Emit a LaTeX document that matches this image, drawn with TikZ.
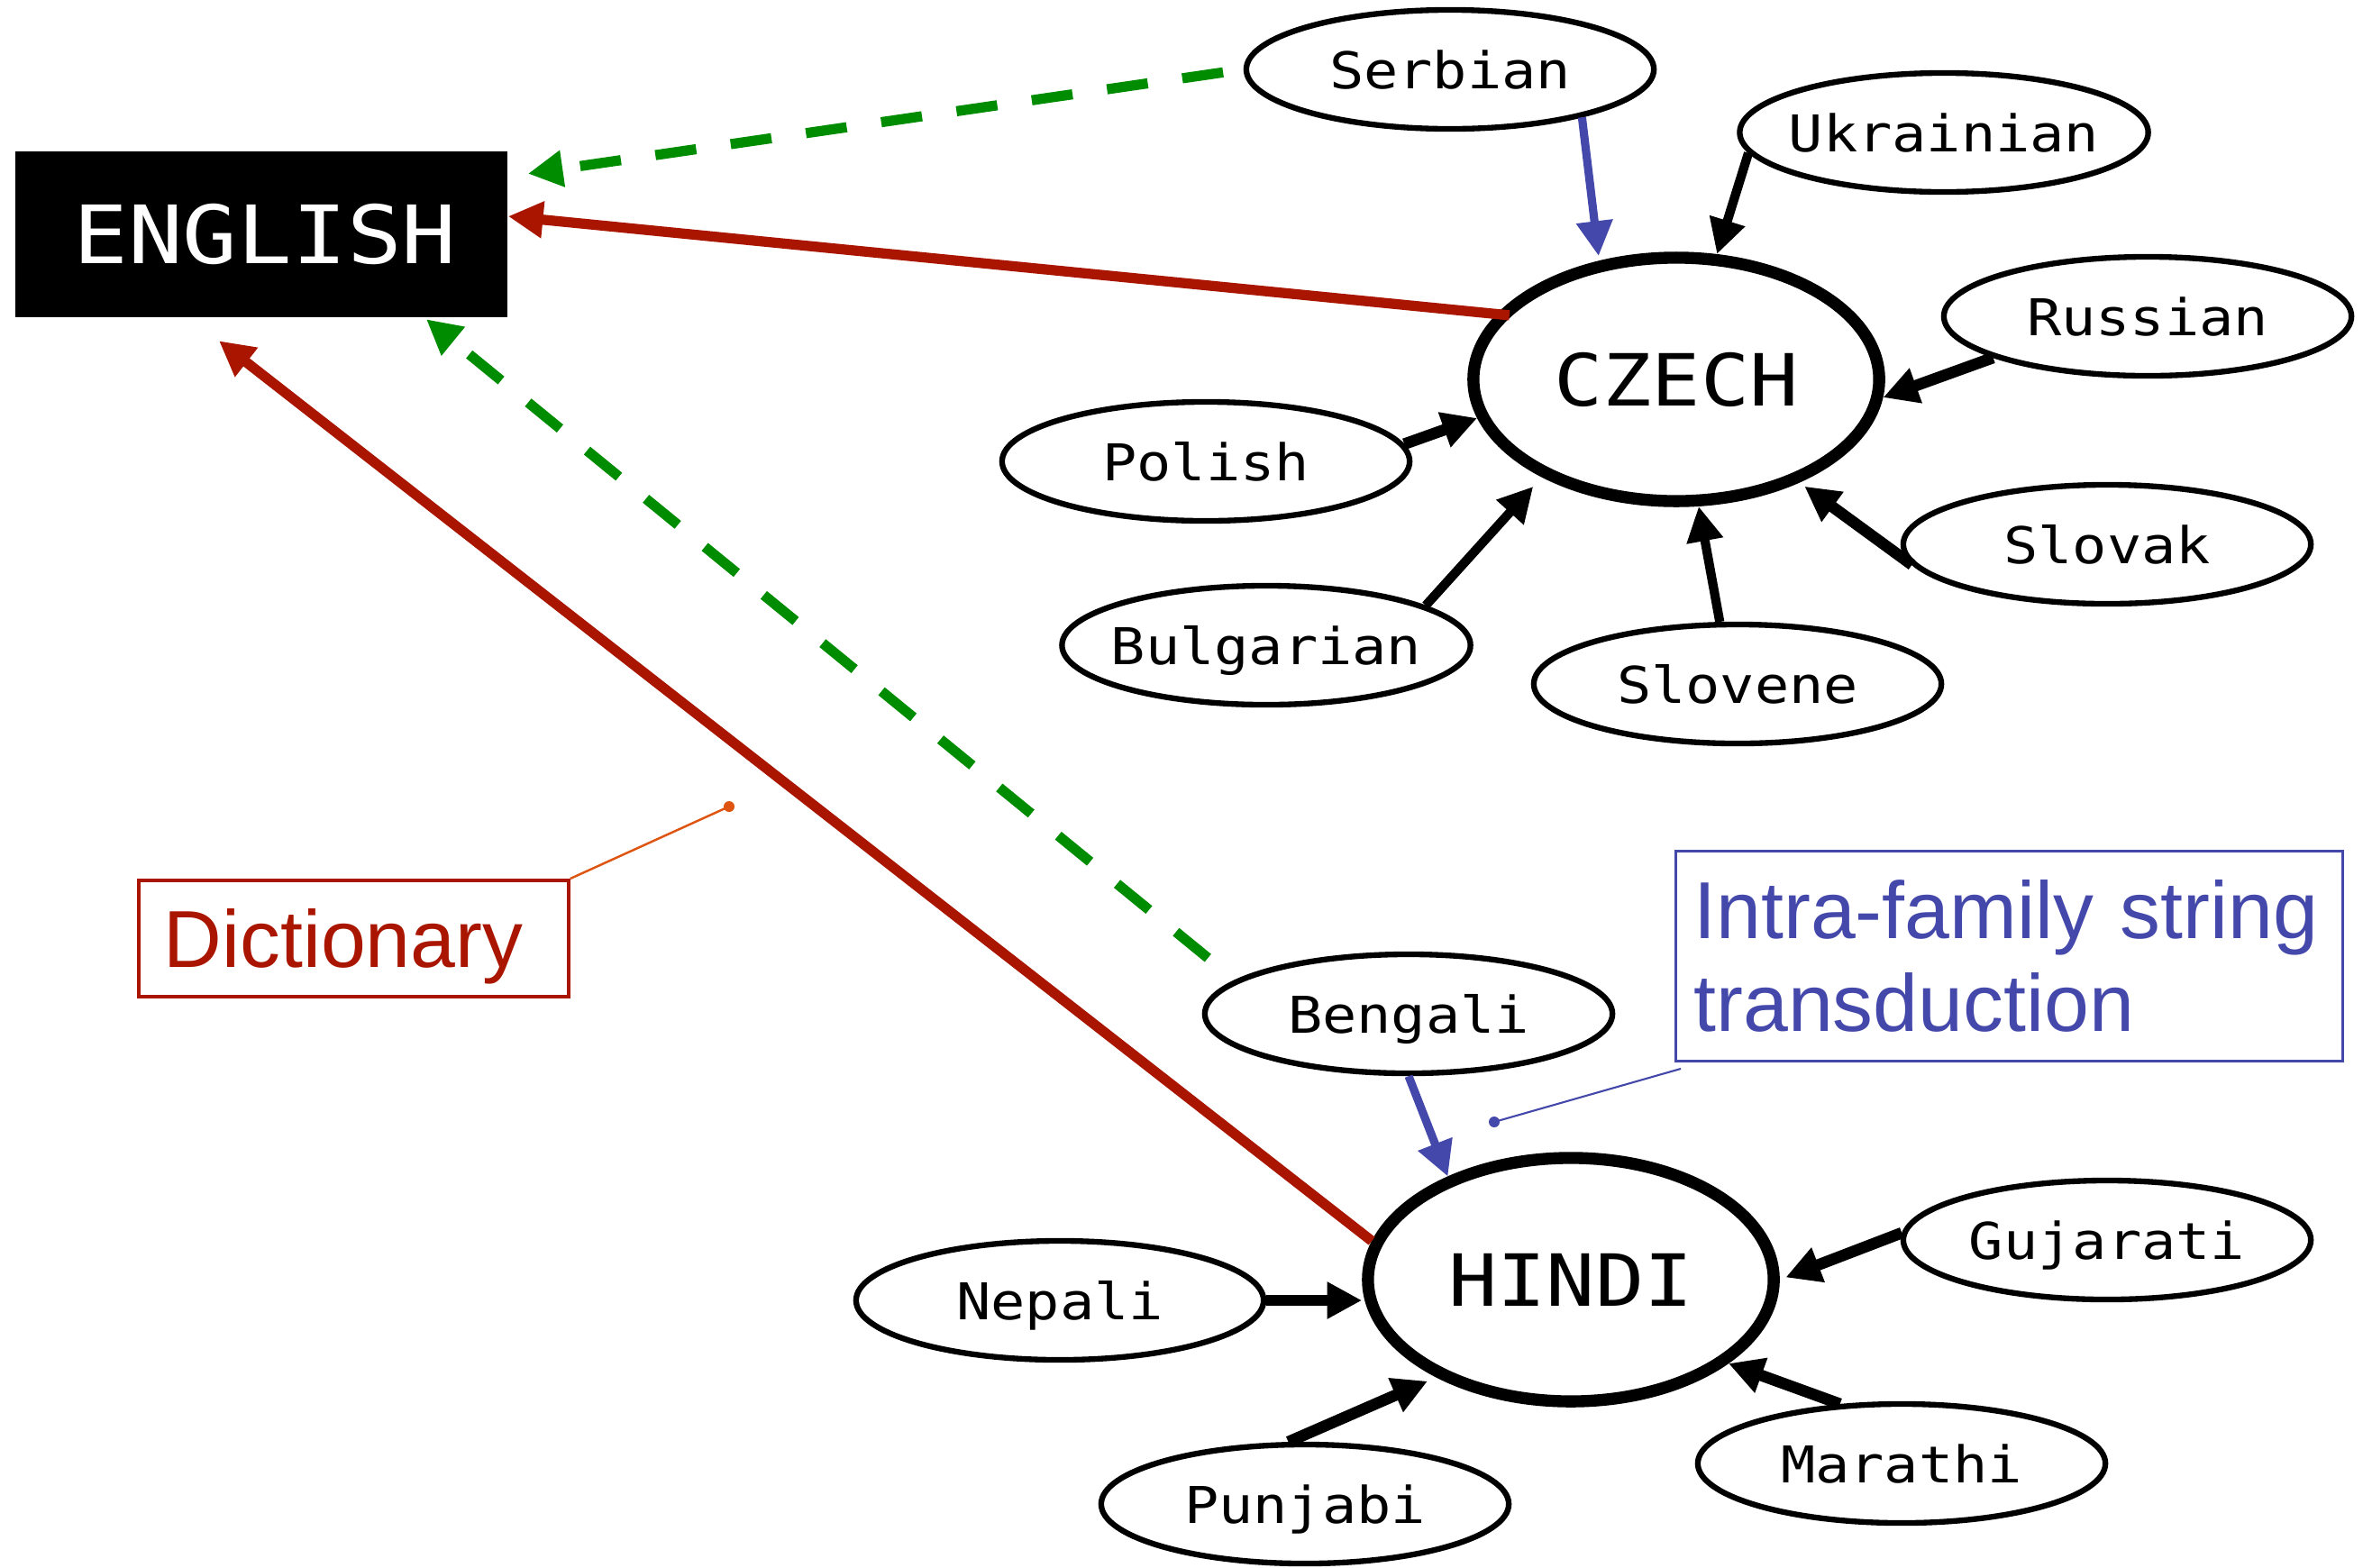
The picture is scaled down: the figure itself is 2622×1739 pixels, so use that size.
\documentclass[tikz,border=0pt]{standalone}
\usepackage{fontspec}
\setmainfont{Liberation Sans}
\newfontfamily\langfont{DejaVu Sans Mono}
\usetikzlibrary{shapes.geometric,arrows.meta,calc}

\definecolor{dictred}{HTML}{AA1500}
\definecolor{pivotgreen}{HTML}{008C00}
\definecolor{famblue}{HTML}{4448AA}
\definecolor{leaderorange}{HTML}{DD5511}

% monospaced labels are set slightly widened
\newcommand{\widetext}[1]{\scalebox{1.13}[1]{#1}}

\tikzset{
  lang/.style={ellipse, draw, line width=1.8pt, inner xsep=-0.12cm,
    inner ysep=0pt, minimum width=4.52cm, minimum height=1.32cm,
    text depth=0pt, font=\langfont\fontsize{16}{18}\selectfont},
  pivot/.style={ellipse, draw, line width=3.8pt, inner sep=0pt,
    minimum width=4.5cm, minimum height=2.7cm, text depth=0pt,
    font=\langfont\fontsize{22.7}{26}\selectfont},
  headtip/.style={-{Triangle[length=11pt,width=11pt]}},
  feed/.style={headtip, line width=2.9pt},
  feedthick/.style={headtip, line width=3.6pt},
  dictlink/.style={headtip, draw=dictred, line width=3.2pt},
  pivotlink/.style={headtip, draw=pivotgreen, line width=3.2pt,
    dash pattern=on 13pt off 11pt},
  famlink/.style={headtip, draw=famblue, line width=2.6pt},
  callout/.style={rectangle, draw, align=left, anchor=north west,
    font=\fontsize{25.5}{29.3}\selectfont},
  dot/.style={circle, inner sep=0pt, minimum size=0.12cm},
}

\begin{document}
\begin{tikzpicture}[x=0.01cm, y=-0.01cm]
\useasboundingbox (0,0) rectangle (2622,1739);

% target language
\node[rectangle, fill=black, text=white, minimum width=5.46cm,
  minimum height=1.83cm, inner sep=0pt,
  font=\langfont\fontsize{25.4}{28}\selectfont] (english) at (290,260)
  {\hspace*{0.08cm}\widetext{ENGLISH}};

% Slavic family
\node[pivot] (czech) at (1860,421) {\widetext{CZECH}};
\node[lang] (serbian)   at (1609,77)   {\widetext{Serbian}};
\node[lang] (ukrainian) at (2157,147)  {\widetext{Ukrainian}};
\node[lang] (russian)   at (2383,351)  {\widetext{Russian}};
\node[lang] (polish)    at (1338,512)  {\widetext{Polish}};
\node[lang] (slovak)    at (2338,604)  {\widetext{Slovak}};
\node[lang] (bulgarian) at (1405,716)  {\widetext{Bulgarian}};
\node[lang] (slovene)   at (1928,759)  {\widetext{Slovene}};

% Indic family
\node[pivot] (hindi) at (1743,1420) {\widetext{HINDI}};
\node[lang] (bengali)  at (1563,1125) {\widetext{Bengali}};
\node[lang] (gujarati) at (2338,1376) {\widetext{Gujarati}};
\node[lang] (nepali)   at (1176,1443) {\widetext{Nepali}};
\node[lang] (marathi)  at (2110,1624) {\widetext{Marathi}};
\node[lang] (punjabi)  at (1448,1669) {\widetext{Punjabi}};

% dictionary links to English
\draw[dictlink, shorten <=-4pt] (czech.160) -- ($(english.east)+(0,-20)$);
\draw[dictlink] (hindi.169) -- ($(english.south)+(-47,26)$);

% pivot links to English
\draw[pivotlink, shorten <=6.5pt] (serbian.west) -- ($(english.north east)+(22,25)$);
\draw[pivotlink, shorten <=11pt] (bengali.169) -- ($(english.south)+(183,2)$);

% intra-family transduction
\draw[famlink, shorten >=1.5pt] (serbian.-20) -- (czech.123);
\draw[famlink] (bengali.south) -- (hindi.140);

% Slavic languages into Czech
\draw[feed] (ukrainian.186) -- (czech.72);
\draw[feedthick] (russian.195) -- (czech.-5);
\draw[feedthick] (polish.5) -- (czech.191);
\draw[feed, shorten >=4pt] (bulgarian.14) -- (czech.216);
\draw[feed] (slovene.106) -- (czech.-80);
\draw[feedthick, shorten >=2pt] (slovak.186) -- (czech.-40);

% Indic languages into Hindi
\draw[feedthick, shorten >=2pt] (gujarati.178) -- (hindi.0);
\draw[feedthick] (nepali.east) -- (nepali.east -| hindi.west);
\draw[feedthick] (marathi.136) -- (hindi.-28);
\draw[feedthick, shorten >=3pt] (punjabi.105) -- (hindi.216);

% callouts
\node[callout, draw=dictred, text=dictred, line width=1pt, text depth=0pt,
  minimum width=4.77cm, minimum height=1.29cm, inner xsep=0.28cm,
  text width=4.21cm] (dict) at (152,975) {Dictionary};
\node[dot, fill=leaderorange] (dictdot) at (809,895) {};
\draw[leaderorange, line width=0.7pt] (dict.north east) -- (dictdot.center);

\node[callout, draw=famblue, text=famblue, line width=0.8pt,
  minimum width=7.4cm, minimum height=2.33cm, inner xsep=0.2cm,
  text width=7.0cm] (intra) at (1858,943)
  {Intra-family string\\transduction};
\node[dot, fill=famblue] (intradot) at (1658,1245) {};
\draw[famblue, line width=0.6pt] ($(intra.south west)+(7,7)$) -- (intradot.center);
\end{tikzpicture}
\end{document}
